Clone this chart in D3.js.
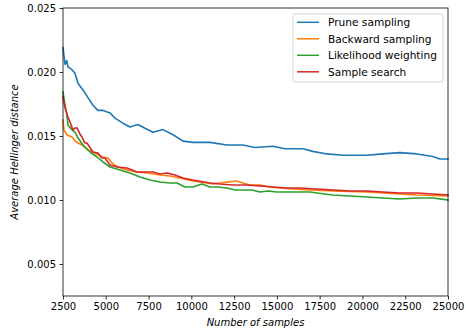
<!DOCTYPE html>
<html><head><meta charset="utf-8">
<script src="https://cdn.jsdelivr.net/npm/d3@7"></script>
<style>body{margin:0;background:#fff}svg{display:block}text{font-family:"DejaVu Sans",sans-serif}</style>
</head><body><svg id="c" width="466" height="335"></svg>
<script>
const seriesNames = ["Prune sampling","Backward sampling","Likelihood weighting","Sample search"];
const seriesColors = ["#1f77b4","#ff7f0e","#2ca02c","#d62728"];
const xTicks = [2500,5000,7500,10000,12500,15000,17500,20000,22500,25000];
const yTicks = [0.005,0.010,0.015,0.020,0.025];

const pruneX = [2500,2620,2720,2790,3010,3200,3380,3670,3960,4250,4540,4840,5250,5540,6000,6410,6880,7290,7760,8340,8930,9510,10090,11090,12080,13010,13720,14770,15470,16520,17100,17920,18860,20260,21190,22180,23180,24110,24520,25000];
const pruneY = [0.0219,0.0206,0.0209,0.0204,0.0202,0.0199,0.0191,0.0186,0.0180,0.0174,0.0170,0.0170,0.0168,0.0164,0.0160,0.0157,0.0159,0.0156,0.0153,0.0155,0.0151,0.0146,0.0145,0.0145,0.0143,0.0143,0.0141,0.0142,0.0140,0.0140,0.0138,0.0136,0.0135,0.0135,0.0136,0.0137,0.0136,0.0134,0.0132,0.0132];

const backX = [2500,2560,2730,3030,3200,3380,3610,3960,4370,4780,5130,5420,5710,6240,6820,7410,8170,8750,9330,10090,10910,11260,11670,12080,12660,13010,13420,14010,14590,15180,15930,16930,18270,20260,22180,23180,25000];
const backY = [0.01625,0.01547,0.01508,0.01492,0.01461,0.01445,0.0143,0.01391,0.01367,0.01336,0.01328,0.01281,0.01258,0.01234,0.01219,0.01211,0.01195,0.01188,0.01172,0.01148,0.01133,0.01125,0.01133,0.0114,0.01148,0.01133,0.01117,0.01117,0.01102,0.01094,0.01086,0.01078,0.0107,0.01063,0.01047,0.01039,0.01031];

const lwX = [2500,2620,2730,2790,3030,3200,3380,3670,4080,4490,4840,5250,5830,6410,7000,7580,8170,8750,9160,9630,10090,10620,11090,11550,12080,12550,13540,14010,14470,15000,15930,16930,17340,18270,19260,20260,21190,22180,23180,24110,25000];
const lwY = [0.01844,0.01742,0.01664,0.01586,0.01547,0.01531,0.01484,0.0143,0.01375,0.01336,0.01297,0.01258,0.01234,0.01211,0.0118,0.01156,0.01141,0.01133,0.01133,0.01102,0.01102,0.01125,0.01102,0.01102,0.01094,0.01078,0.01078,0.01063,0.0107,0.01063,0.01063,0.01063,0.01055,0.01039,0.01031,0.01023,0.01016,0.01008,0.01016,0.01016,0.0100];

const ssX = [2500,2620,2790,2910,3080,3200,3320,3490,3610,3790,3900,4250,4540,4780,4950,5250,5650,6240,6820,7410,7760,8170,8580,9040,9510,10090,11090,11670,12430,13250,14010,14770,15580,16340,17340,18270,19260,20260,21190,22180,23180,24110,25000];
const ssY = [0.01805,0.01719,0.01648,0.01609,0.01547,0.01563,0.01563,0.01516,0.01492,0.01445,0.01445,0.01375,0.01367,0.01328,0.01328,0.01273,0.01258,0.0125,0.01219,0.01219,0.01219,0.01203,0.01211,0.01195,0.01172,0.01156,0.01133,0.01125,0.01117,0.01117,0.01109,0.01102,0.01094,0.01094,0.01086,0.01078,0.0107,0.0107,0.01063,0.01055,0.01055,0.01047,0.01039];

const seriesX = [pruneX, backX, lwX, ssX];
const seriesY = [pruneY, backY, lwY, ssY];

const L = 63, R = 448, T = 8, B = 296;
const svg = d3.select("#c");
const x = d3.scaleLinear().domain([2500,25000]).range([L,R]);
const y = d3.scaleLinear().domain([0.0025,0.025]).range([B,T]);

const line = d3.line().x(d=>x(d[0])).y(d=>y(d[1]));
seriesNames.forEach((n,i)=>{
  const pts = seriesX[i].map((v,j)=>[v, seriesY[i][j]]);
  svg.append("path").attr("d", line(pts)).attr("fill","none")
    .attr("stroke", seriesColors[i]).attr("stroke-width",1.6)
    .attr("stroke-linejoin","round").attr("stroke-linecap","square");
});

const xAxis = svg.append("g").attr("transform",`translate(0,${B})`)
  .call(d3.axisBottom(x).tickValues(xTicks).tickFormat(d3.format("d")).tickSize(3.5).tickPadding(3.5));
const yAxis = svg.append("g").attr("transform",`translate(${L},0)`)
  .call(d3.axisLeft(y).tickValues(yTicks).tickFormat(d3.format(".3f")).tickSize(3.5).tickPadding(3.5));
[xAxis,yAxis].forEach(a=>{
  a.select(".domain").remove();
  a.selectAll("line").attr("stroke","#000").attr("stroke-width",0.8);
  a.selectAll("text").attr("font-size",10).attr("fill","#000").attr("font-family","DejaVu Sans");
});
svg.append("rect").attr("x",L).attr("y",T).attr("width",R-L).attr("height",B-T)
  .attr("fill","none").attr("stroke","#000").attr("stroke-width",0.8);

svg.append("text").attr("x",(L+R)/2).attr("y",326).attr("text-anchor","middle")
  .attr("font-size",10).attr("font-style","italic").text("Number of samples");
svg.append("text").attr("transform",`translate(18,${(T+B)/2}) rotate(-90)`).attr("text-anchor","middle")
  .attr("font-size",10).attr("font-style","italic").text("Average Hellinger distance");

const lg = svg.append("g");
lg.append("rect").attr("x",293).attr("y",14).attr("width",150).attr("height",68).attr("rx",2)
  .attr("fill","#fff").attr("fill-opacity",0.8).attr("stroke","#cccccc").attr("stroke-width",0.8);
seriesNames.forEach((n,i)=>{
  const yy = 22.3 + i*16.5;
  lg.append("line").attr("x1",297).attr("x2",319).attr("y1",yy).attr("y2",yy)
    .attr("stroke",seriesColors[i]).attr("stroke-width",1.5);
  lg.append("text").attr("x",328).attr("y",yy+3.7).attr("font-size",10.6).text(n);
});
</script></body></html>
